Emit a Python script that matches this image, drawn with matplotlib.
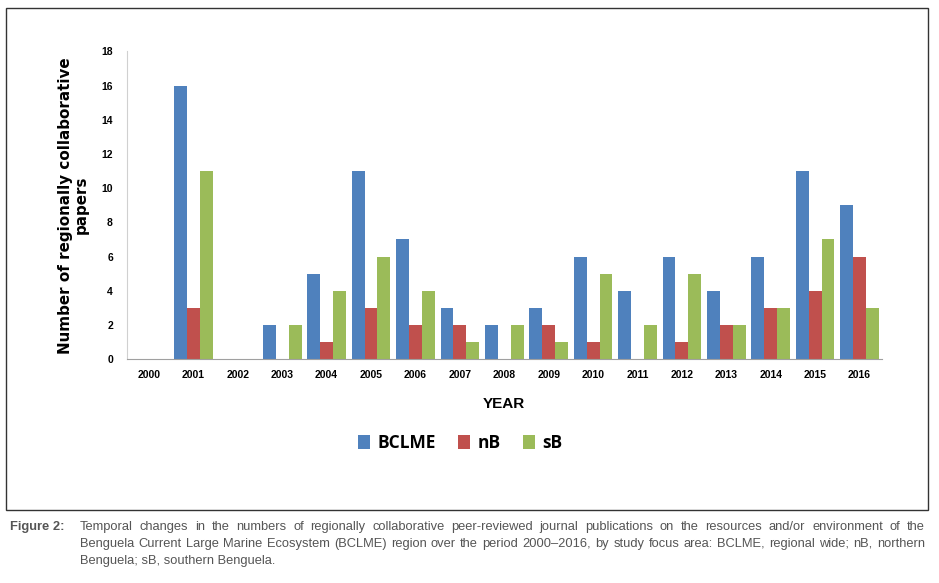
import matplotlib.pyplot as plt
import matplotlib.patches as mpatches
import numpy as np

years = ['2000', '2001', '2002', '2003', '2004', '2005', '2006', '2007', '2008',
         '2009', '2010', '2011', '2012', '2013', '2014', '2015', '2016']
bclme = [0, 16, 0, 2, 5, 11, 7, 3, 2, 3, 6, 4, 6, 4, 6, 11, 9]
nb = [0, 3, 0, 0, 1, 3, 2, 2, 0, 2, 1, 0, 1, 2, 3, 4, 6]
sb = [0, 11, 0, 2, 4, 6, 4, 1, 2, 1, 5, 2, 5, 2, 3, 7, 3]
series = [('BCLME', bclme, '#4F81BD'), ('nB', nb, '#C0504D'), ('sB', sb, '#9BBB59')]

cap_lines = [
    'Temporal changes in the numbers of regionally collaborative peer-reviewed journal publications on the resources and/or environment of the',
    'Benguela Current Large Marine Ecosystem (BCLME) region over the period 2000\u20132016, by study focus area: BCLME, regional wide; nB, northern',
    'Benguela; sB, southern Benguela.',
]

sans = ['Liberation Sans', 'DejaVu Sans']

fig = plt.figure(figsize=(9.39, 5.83), dpi=100)
ax = fig.add_axes([0.135, 0.384, 0.804, 0.528])

x = np.arange(len(years))
w = 0.29
for i, (name, vals, col) in enumerate(series):
    ax.bar(x + (i - 1) * w, vals, w, color=col, label=name)

ax.set_xlim(-0.5, len(years) - 0.5)
ax.set_ylim(0, 18)
ax.set_yticks(range(0, 19, 2))
ax.set_xticks(x)
ax.set_xticklabels(years)
ax.tick_params(length=0, pad=8)
for lab in ax.get_xticklabels() + ax.get_yticklabels():
    lab.set_family(sans)
    lab.set_fontweight('bold')
    lab.set_fontsize(7.5)
ax.tick_params(axis='y', pad=10)
for s in ['top', 'right']:
    ax.spines[s].set_visible(False)
ax.spines['left'].set_color('#d0d0d0')
ax.spines['bottom'].set_color('#a0a0a0')

ax.set_ylabel('Number of regionally collaborative\npapers', fontsize=10.9,
              fontweight='bold', family='DejaVu Sans', labelpad=9, linespacing=1.05)
ax.set_xlabel('YEAR', fontsize=11, fontweight='bold', family=sans, labelpad=12)

fig.legend(loc='center', bbox_to_anchor=(0.49, 0.24), ncol=3, frameon=False,
           handlelength=0.7, handleheight=0.8, handletextpad=0.4, columnspacing=1.3,
           prop={'family': ['Open Sans', 'DejaVu Sans'], 'weight': 'bold', 'size': 12.5})

# frame around the chart
fig.patches.append(mpatches.Rectangle((6 / 939, 1 - 510 / 583), 922 / 939, 502 / 583,
                                      transform=fig.transFigure, fill=False,
                                      edgecolor='#333333', linewidth=1))

# caption, justified like the journal layout
fig.text(10 / 939, 1 - 527 / 583, 'Figure 2:', fontsize=9.3, fontweight='bold',
         family=sans, color='#555555', va='center')
renderer = fig.canvas.get_renderer()
x0, x1 = 80.0, 925.0
for k, line in enumerate(cap_lines):
    yf = 1 - (527 + k * 17) / 583
    words = line.split(' ')
    if k == len(cap_lines) - 1:
        fig.text(x0 / 939, yf, line, fontsize=9.3, family=sans, color='#555555', va='center')
        continue
    texts = [fig.text(0, yf, wd, fontsize=9.3, family=sans, color='#555555', va='center')
             for wd in words]
    widths = [t.get_window_extent(renderer).width for t in texts]
    gap = (x1 - x0 - sum(widths)) / (len(words) - 1)
    pos = x0
    for t, wd in zip(texts, widths):
        t.set_x(pos / 939)
        pos += wd + gap

fig.savefig('out.png', dpi=100)
